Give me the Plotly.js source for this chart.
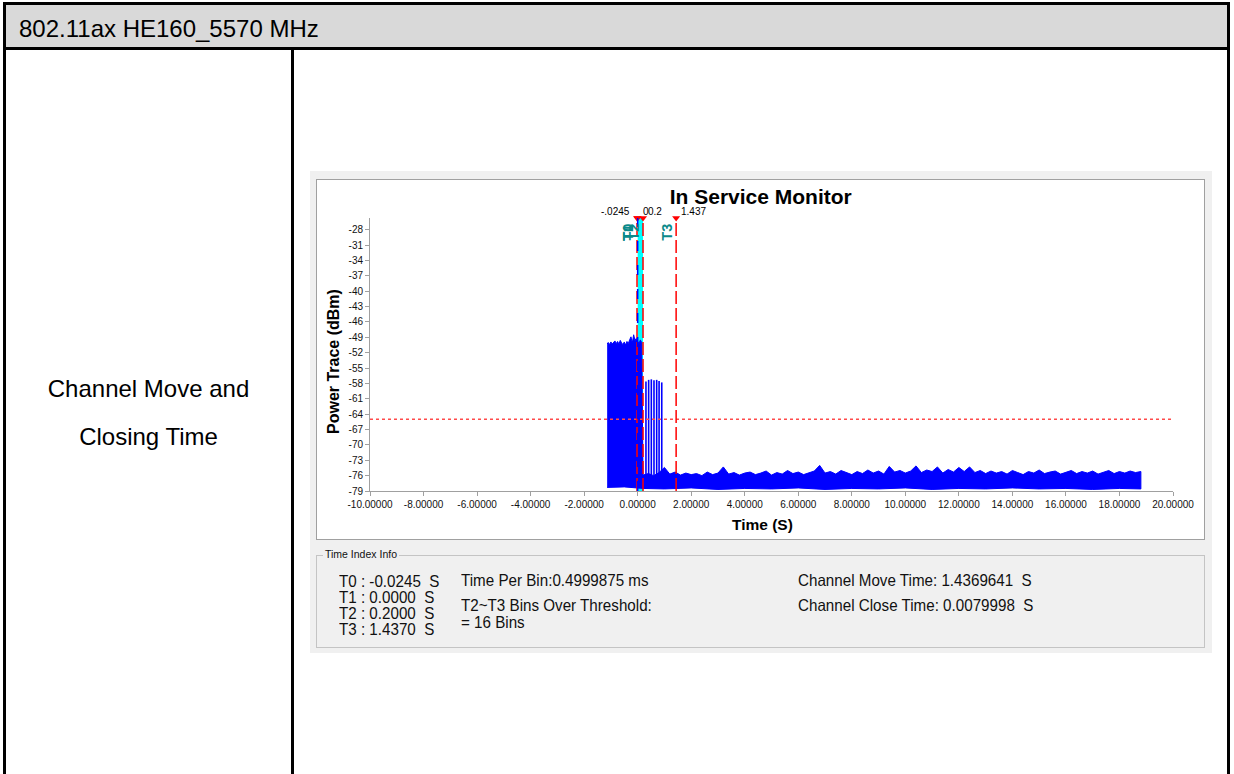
<!DOCTYPE html>
<html>
<head>
<meta charset="utf-8">
<script src="https://cdn.plot.ly/plotly-3.0.1.min.js"></script>
<style>
html,body{margin:0;padding:0;width:1234px;height:774px;overflow:hidden;background:#fff;font-family:"Liberation Sans",Arial,sans-serif;}
.abs{position:absolute;box-sizing:border-box;}
.t{position:absolute;white-space:pre;line-height:1.117;}
.info{font-size:16.5px;line-height:14px;color:#111;transform:scaleX(0.92);transform-origin:0 0;}
#outer{left:3px;top:2px;width:1227px;height:820px;border:3px solid #000;}
#header{left:6px;top:5px;width:1221px;height:42px;background:#d9d9d9;}
#hline{left:3px;top:47px;width:1227px;height:3px;background:#000;}
#vline{left:291px;top:50px;width:3px;height:740px;background:#000;}
#win{left:310px;top:171px;width:902px;height:482px;background:#f0f0f0;}
#panel{left:316px;top:179px;width:889px;height:361px;background:#fff;border:1px solid #a0a0a0;}
#group{left:316px;top:555px;width:889px;height:93px;border:1px solid #c4c4c4;}
#plot{position:absolute;left:0;top:0;width:1234px;height:774px;}
</style>
</head>
<body>
<div id="outer" class="abs"></div>
<div id="header" class="abs"></div>
<div id="hline" class="abs"></div>
<div id="vline" class="abs"></div>
<div class="t" style="left:19px;top:15.9px;font-size:24px;color:#000;">802.11ax HE160_5570 MHz</div>
<div class="t" style="left:6px;width:285px;text-align:center;top:375.9px;font-size:24px;color:#000;">Channel Move and</div>
<div class="t" style="left:6px;width:285px;text-align:center;top:423.9px;font-size:24px;color:#000;">Closing Time</div>

<div id="win" class="abs"></div>
<div id="panel" class="abs"></div>
<div id="group" class="abs"></div>
<div class="t" style="left:323px;top:549px;font-size:10.5px;color:#111;background:#f0f0f0;padding:0 2px;">Time Index Info</div>
<div id="infobox"></div>
<div id="plot"></div>

<script>
// ---------- data ----------
const markerNames  = ['T0', 'T1', 'T2', 'T3'];
const markerTimes  = [-0.0245, 0.0, 0.2, 1.437];
const markerLabels = ['-.0245', '0', '0.2', '1.437'];
const markerColors = ['#ff0000', '#0000ff', '#ff0000', '#ff0000'];
const threshold = -65;

// high-power segment before the channel move (upper envelope of the trace)
const highTimes = [-1.14,-1.10,-1.05,-1.00,-0.95,-0.90,-0.85,-0.80,-0.75,-0.70,-0.65,-0.60,-0.55,-0.50,-0.45,-0.40,-0.35,-0.30,-0.25,-0.20,-0.15,-0.10,-0.05,0.00,0.05,0.10,0.15];
const highUpper = [-50.3,-50.0,-50.4,-49.9,-50.3,-50.0,-49.7,-50.2,-49.8,-50.3,-49.6,-50.1,-50.4,-49.9,-50.5,-49.8,-50.2,-49.5,-48.9,-50.1,-48.5,-49.6,-49.2,-49.8,-50.2,-49.5,-50.0];

// noise floor after the move (upper envelope)
const noiseTimes = [0.2,0.4,0.6,0.8,1.0,1.2,1.4,1.6,1.8,2.0,
  2.2,2.4,2.6,2.8,3.0,3.2,3.4,3.6,3.8,4.0,
  4.2,4.4,4.6,4.8,5.0,5.2,5.4,5.6,5.8,6.0,
  6.2,6.4,6.6,6.8,7.0,7.2,7.4,7.6,7.8,8.0,
  8.2,8.4,8.6,8.8,9.0,9.2,9.4,9.6,9.8,10.0,
  10.2,10.4,10.6,10.8,11.0,11.2,11.4,11.6,11.8,12.0,
  12.2,12.4,12.6,12.8,13.0,13.2,13.4,13.6,13.8,14.0,
  14.2,14.4,14.6,14.8,15.0,15.2,15.4,15.6,15.8,16.0,
  16.2,16.4,16.6,16.8,17.0,17.2,17.4,17.6,17.8,18.0,
  18.2,18.4,18.6,18.8];
const noiseUpper = [-75.9,-75.6,-76.0,-75.4,-74.4,-75.7,-75.3,-75.9,-75.5,-75.8,
  -75.6,-76.0,-75.3,-75.8,-75.5,-74.3,-75.7,-75.4,-75.9,-75.5,
  -75.3,-75.8,-75.5,-75.1,-75.9,-75.4,-75.7,-75.0,-75.6,-75.3,
  -75.8,-75.4,-75.1,-74.0,-75.5,-75.2,-75.7,-75.0,-75.4,-75.8,
  -75.2,-75.6,-74.9,-75.5,-75.1,-75.7,-74.2,-75.3,-75.0,-75.5,
  -75.1,-74.1,-75.4,-74.9,-75.2,-74.3,-75.5,-74.8,-75.3,-74.4,
  -75.2,-74.3,-75.4,-75.0,-75.6,-75.1,-75.5,-75.2,-75.7,-75.0,
  -75.4,-75.8,-75.2,-75.5,-74.9,-75.6,-75.3,-75.1,-75.7,-75.4,
  -75.0,-75.6,-75.2,-75.5,-75.1,-75.7,-75.3,-75.0,-75.6,-75.2,
  -75.5,-75.1,-75.4,-75.2];

// lower envelope of the whole trace
const lowerTimes = [-1.14,-0.5,0.2,1,2,3,4,5,6,7,8,9,10,11,12,13,14,15,16,17,18,18.8];
const lowerVals  = [-78.3,-78.2,-78.5,-78.6,-78.4,-78.7,-78.5,-78.6,-78.4,-78.7,-78.5,-78.6,-78.4,-78.7,-78.5,-78.6,-78.4,-78.6,-78.5,-78.7,-78.5,-78.6];

// bursts between T2 and T3
const spikeTimes = [0.31,0.41,0.51,0.61,0.71,0.80,0.90];
const spikeTops  = [-57.6,-57.3,-57.2,-57.4,-57.3,-57.5,-57.8];
const spikeBase  = -77;

const xRange = [-10, 20];
const yRange = [-79, -25.7];
const xTicks = [-10,-8,-6,-4,-2,0,2,4,6,8,10,12,14,16,18,20];
const yTicks = [-79,-76,-73,-70,-67,-64,-61,-58,-55,-52,-49,-46,-43,-40,-37,-34,-31,-28];

const infoCol1 = ['T0 : -0.0245  S','T1 : 0.0000  S','T2 : 0.2000  S','T3 : 1.4370  S'];
const infoCol2 = ['Time Per Bin:0.4999875 ms','T2~T3 Bins Over Threshold:','= 16 Bins'];
const infoCol3 = ['Channel Move Time: 1.4369641  S','Channel Close Time: 0.0079998  S'];

// ---------- info box (HTML text) ----------
(function(){
  const box = document.getElementById('infobox');
  const fs = 16.5, L = 14;
  const off = (L - 1.117*fs)/2 + 0.905*fs - 0.358*fs; // cap centre below box top
  const add = (txt, x, yc) => {
    const d = document.createElement('div');
    d.className = 't info';
    d.style.left = x + 'px';
    d.style.top = (yc - off) + 'px';
    d.textContent = txt;
    box.appendChild(d);
  };
  const c1y = [581, 597, 613, 629];
  infoCol1.forEach((s,i)=>add(s, 339, c1y[i]));
  const c2y = [580, 605, 622];
  infoCol2.forEach((s,i)=>add(s, 461, c2y[i]));
  const c3y = [580, 605];
  infoCol3.forEach((s,i)=>add(s, 798, c3y[i]));
})();

// ---------- traces ----------
const upT = highTimes.concat(noiseTimes);
const upV = highUpper.concat(noiseUpper);
const bandX = upT.concat(lowerTimes.slice().reverse());
const bandY = upV.concat(lowerVals.slice().reverse());

const band = {
  x: bandX, y: bandY, type: 'scatter', mode: 'lines',
  fill: 'toself', fillcolor: '#0000ff',
  line: {color: '#0000ff', width: 1}, hoverinfo: 'skip', showlegend: false
};

const sx = [], sy = [];
spikeTimes.forEach((t,i)=>{ sx.push(t,t,null); sy.push(spikeBase, spikeTops[i], null); });
const spikes = {
  x: sx, y: sy, type: 'scatter', mode: 'lines',
  line: {color: '#0000ff', width: 1.6}, hoverinfo: 'skip', showlegend: false
};

const tri = {
  x: markerTimes, y: markerTimes.map(()=>yRange[1]),
  type: 'scatter', mode: 'markers', cliponaxis: false,
  marker: {symbol: 'triangle-down', size: 7, color: '#ff0000'},
  hoverinfo: 'skip', showlegend: false
};

// ---------- shapes ----------
const shapes = [
  {type:'rect', xref:'x', yref:'paper', x0: markerTimes[1], x1: markerTimes[2], y0:0, y1:1,
   fillcolor:'#00ffff', line:{width:0}, layer:'below'},
  {type:'line', xref:'x', yref:'y', x0: xRange[0], x1: xRange[1], y0: threshold, y1: threshold,
   line:{color:'#ff4a4a', width:1.5, dash:'3px,3px'}, layer:'above'}
];
markerTimes.forEach((t,i)=>{
  shapes.push({type:'line', xref:'x', yref:'paper', x0:t, x1:t, y0:0, y1:1,
    line:{color: markerColors[i], width:1.5, dash: i===1 ? '10px,14px' : '13px,4px'}, layer:'above'});
});

// ---------- annotations ----------
const annotations = [];
const labelShift = [-5.5, 3, 3, 3];
const labelAnchor = ['right', 'left', 'left', 'left'];
markerTimes.forEach((t,i)=>{
  annotations.push({xref:'x', yref:'paper', x:t, y:1, yanchor:'bottom', yshift:-1,
    xanchor: labelAnchor[i], xshift: labelShift[i], showarrow:false,
    text: markerLabels[i], font:{family:'Liberation Sans', size:10, color:'#000'}});
  annotations.push({xref:'x', yref:'paper', x:t, y:1, yanchor:'top', yshift:-4,
    xanchor:'center', xshift:-10, showarrow:false, textangle:-90,
    text: '<b>' + markerNames[i] + '</b>', font:{family:'Liberation Sans', size:14.5, color:'#0a8a8a'}});
});
// axis titles (positioned as in the reference, slightly off-centre)
annotations.push({xref:'paper', yref:'paper', x:0, xshift:-37, xanchor:'center', y:(491-362)/273, yanchor:'middle',
  textangle:-90, showarrow:false, text:'<b>Power Trace (dBm)</b>', font:{family:'Liberation Sans', size:16, color:'#000'}});
annotations.push({xref:'paper', yref:'paper', x:(762-370)/803, xanchor:'center', y:0, yanchor:'middle', yshift:-33,
  showarrow:false, text:'<b>Time (S)</b>', font:{family:'Liberation Sans', size:15.5, color:'#000'}});

const layout = {
  width: 1234, height: 774,
  margin: {l: 370, r: 61, t: 218, b: 283, pad: 0},
  paper_bgcolor: 'rgba(0,0,0,0)', plot_bgcolor: 'rgba(0,0,0,0)',
  showlegend: false,
  font: {family: 'Liberation Sans', color: '#111'},
  title: {text: '<b>In Service Monitor</b>', font: {family:'Liberation Sans', size: 21, color:'#000'},
          x: 0.4866, xref: 'paper', xanchor: 'center', y: 1 - 197/774, yref: 'container', yanchor: 'middle'},
  xaxis: {range: xRange, tickvals: xTicks, ticktext: xTicks.map(v=>v.toFixed(5)),
          ticks: 'outside', ticklen: 4, tickcolor: '#a0a0a0', showline: true, linecolor: '#a0a0a0',
          showgrid: false, zeroline: false, automargin: false, fixedrange: true,
          tickfont: {family:'Liberation Sans', size: 10, color:'#111'}},
  yaxis: {range: yRange, tickvals: yTicks, ticktext: yTicks.map(v=>String(v)),
          ticks: 'outside', ticklen: 4, tickcolor: '#a0a0a0', showline: true, linecolor: '#a0a0a0',
          showgrid: false, zeroline: false, automargin: false, fixedrange: true,
          tickfont: {family:'Liberation Sans', size: 10, color:'#111'}},
  shapes: shapes,
  annotations: annotations
};

Plotly.newPlot('plot', [band, spikes, tri], layout, {displayModeBar: false, staticPlot: true});
</script>
</body>
</html>
